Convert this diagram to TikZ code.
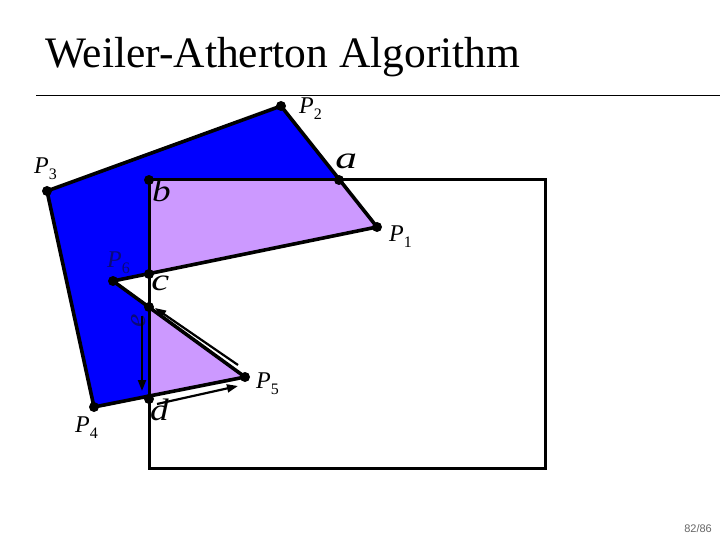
\documentclass[tikz,border=0pt]{standalone}
\usepackage{fontspec}
\setmainfont{Liberation Serif}
\setsansfont{Liberation Sans}
\usetikzlibrary{arrows.meta}
\definecolor{polyblue}{RGB}{0,0,255}
\definecolor{clipviolet}{RGB}{204,153,255}
\definecolor{navy}{RGB}{10,10,120}
\newcommand{\sbx}[1]{\textup{\fontsize{16}{16}\selectfont\raisebox{-6pt}{#1}}}
\begin{document}
\begin{tikzpicture}[x=1pt,y=-1pt,
  vtx/.style={circle,fill=black,inner sep=0pt,minimum size=10pt},
  plab/.style={anchor=base west,inner sep=0pt,font=\fontsize{24}{24}\selectfont\itshape},
  ilab/.style={anchor=base west,inner sep=0pt,font=\fontsize{31}{31}\selectfont\itshape},
  edge/.style={line width=3.6pt,line join=round},
  win/.style={line width=3pt},
  dirarrow/.style={line width=2.2pt,-{Triangle[length=11pt,width=8pt]}}]
\useasboundingbox (0,0) rectangle (720,540);
% title
\node[anchor=base west,inner sep=0pt,font=\fontsize{43.5}{43.5}\selectfont] (title) at (45,68) {Weiler-Atherton Algorithm};
\coordinate (l1) at (36,96);
\coordinate (l2) at (720,96);
\draw[line width=1pt] (l1) -- (l2);
% vertices
\coordinate (P1) at (377,227);
\coordinate (P2) at (281,106);
\coordinate (P3) at (47,191);
\coordinate (P4) at (94,407);
\coordinate (P5) at (245,377);
\coordinate (P6) at (113,281);
\coordinate (a) at (339,180);
\coordinate (b) at (149,180);
\coordinate (c) at (149,274);
\coordinate (e) at (149,307);
\coordinate (d) at (149,399);
\coordinate (R1) at (149,180);
\coordinate (R2) at (545,468);
% fill
\fill[polyblue] (P1) -- (P2) -- (P3) -- (P4) -- (P5) -- (P6) -- cycle;
\begin{scope}
  \clip (R1) rectangle (R2);
  \fill[clipviolet] (P1) -- (P2) -- (P3) -- (P4) -- (P5) -- (P6) -- cycle;
\end{scope}
% window
\draw[win] (R1) rectangle (R2);
% polygon
\draw[edge] (P1) -- (P2) -- (P3) -- (P4) -- (P5) -- (P6) -- cycle;
% vertices dots
\foreach \p in {P1,P2,P3,P4,P5,P6,a,b,c,e,d} \node[vtx] at (\p) {};
% labels
\node[plab] (lP2) at (299,114) {P\sbx{2}};
\node[plab] (lP3) at (34,174) {P\sbx{3}};
\node[plab] (lP1) at (389,241) {P\sbx{1}};
\node[plab,text=navy] (lP6) at (107,267) {P\sbx{6}};
\node[plab] (lP5) at (256,388) {P\sbx{5}};
\node[plab] (lP4) at (75,432) {P\sbx{4}};
\node[ilab,xscale=1.4] (la) at (335,169) {a};
\node[ilab,xscale=1.2] (lb) at (152,202) {b};
\node[ilab,xscale=1.3] (lc) at (151,290) {c};
\node[ilab,xscale=1.2] (ld) at (150,420) {d};
\node[font=\fontsize{30}{30}\selectfont\itshape,rotate=90,inner sep=0pt,text=navy] (le) at (139,321) {e};
% direction arrows
\coordinate (A1s) at (238,365);
\coordinate (A1e) at (155,308);
\coordinate (A2s) at (142,316);
\coordinate (A2e) at (142,391);
\coordinate (A3s) at (157,404);
\coordinate (A3e) at (238,386);
\draw[dirarrow] (A1s) -- (A1e);
\draw[dirarrow] (A2s) -- (A2e);
\draw[dirarrow] (A3s) -- (A3e);
% page number
\node[anchor=base east,inner sep=0pt,font=\sffamily\fontsize{11}{11}\selectfont,text=black!60] (pg) at (712,532) {82/86};
\end{tikzpicture}
\end{document}
